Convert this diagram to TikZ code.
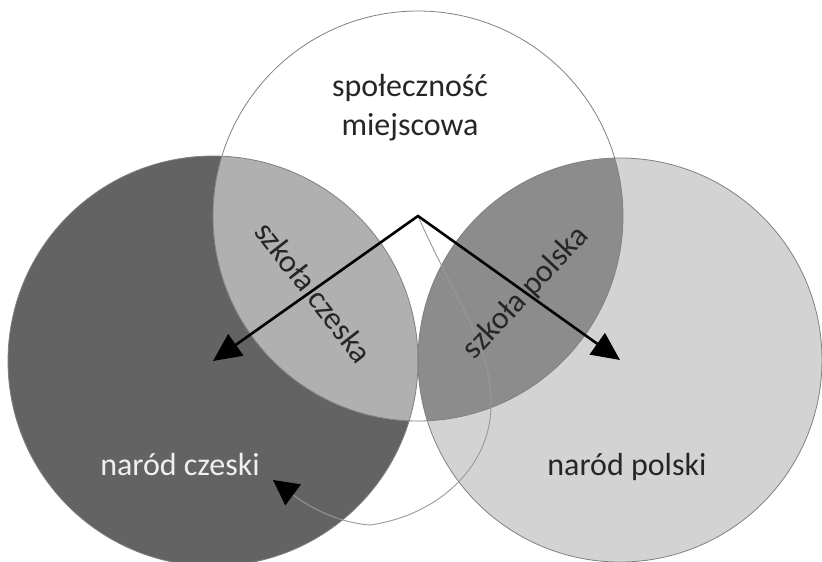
\documentclass[tikz,border=0pt]{standalone}
\usepackage{fontspec}
\setmainfont{Carlito}
\usetikzlibrary{arrows.meta}

\begin{document}
\begin{tikzpicture}[x=1pt,y=-1pt,
	main arrow/.style={line width=2.6pt,{Triangle[length=28pt,width=26pt]}-{Triangle[length=28pt,width=26pt]}},
	thin arrow/.style={draw=gray!80,line width=0.9pt,-{Triangle[length=25pt,width=26pt,color=black]}},
	outline/.style={draw=gray,line width=0.8pt},
	txt/.style={font=\fontsize{32}{39}\selectfont,align=center,text=black!85}]
	
	\definecolor{dark}{RGB}{99,99,99}
	\definecolor{light}{RGB}{211,211,211}
	\definecolor{lensl}{RGB}{176,176,176}
	\definecolor{lensr}{RGB}{140,140,140}
	
	\useasboundingbox (0,0) rectangle (822,562);
	
	\coordinate (m) at (418,216);
	\coordinate (c) at (213,361);
	\coordinate (p) at (620,360);
	\coordinate (back) at (273,480);
	
	% circles and the two overlaps
	\fill[dark] (c) circle (205);
	\fill[light] (p) circle (202);
	\fill[white] (m) circle (205);
	\begin{scope}
		\clip (m) circle (205);
		\fill[lensl] (c) circle (205);
		\fill[lensr] (p) circle (202);
	\end{scope}
	\draw[outline] (c) circle (205);
	\draw[outline] (p) circle (202);
	\draw[outline] (m) circle (205);
	
	% arrows
	\draw[thin arrow] (m) .. controls (455,300) and (492,345) .. (491,405)
		.. controls (491,465) and (440,515) .. (370,525)
		.. controls (330,522) and (300,500) .. (back);
	\draw[main arrow] (c) -- (m) -- (p);
	
	% labels
	\node[txt] (sm) at (410,108) {społeczność\\miejscowa};
	\node[txt,rotate=-52] (sc) at (314,292) {szkoła czeska};
	\node[txt,rotate=47] (sp) at (526,293) {szkoła polska};
	\node[txt,anchor=base,text=white!94!black] (nc) at (180,475) {naród czeski};
	\node[txt,anchor=base] (np) at (627,475) {naród polski};
\end{tikzpicture}
\end{document}
